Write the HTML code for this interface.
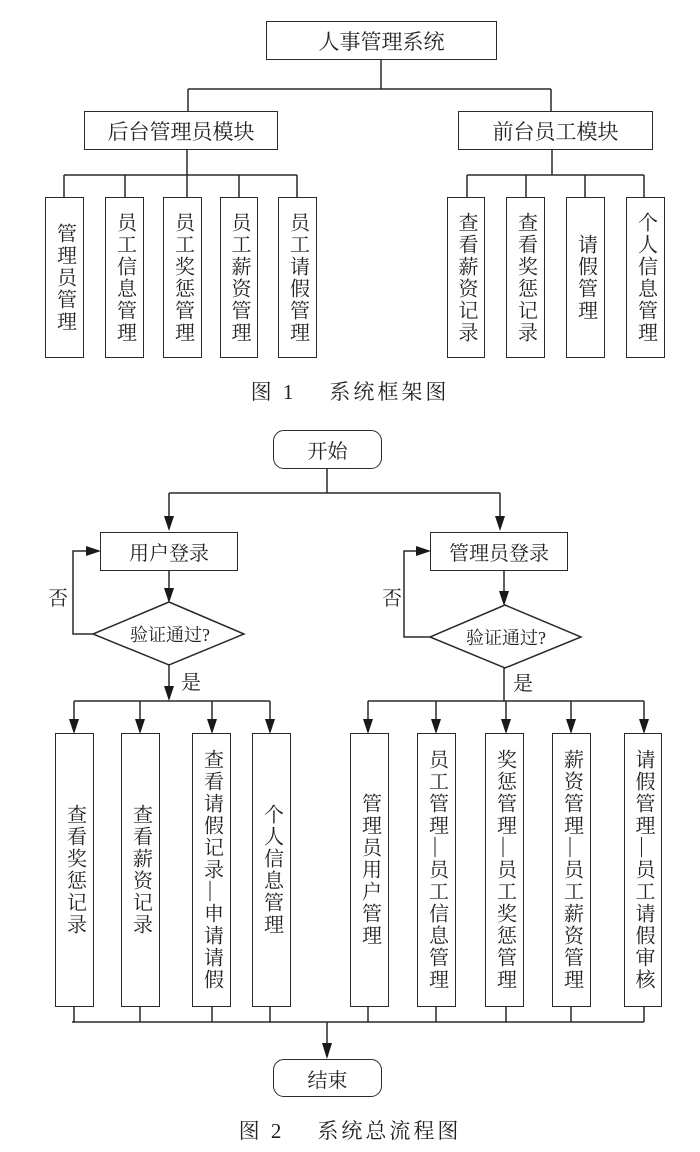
<!DOCTYPE html>
<html><head><meta charset="utf-8"><style>
html,body{margin:0;padding:0;background:#fff;}
body{width:700px;height:1152px;position:relative;overflow:hidden;font-family:"Liberation Serif","Noto Serif CJK SC",serif;color:#222;}
.b{position:absolute;border:1.5px solid #2a2a2a;box-sizing:border-box;display:flex;align-items:center;justify-content:center;font-size:20px;background:#fff;}
.v{writing-mode:vertical-rl;letter-spacing:2px;line-height:22px;}
.r{border-radius:11px;}
.t{position:absolute;font-size:20px;line-height:22px;}
.cap{font-size:21px;letter-spacing:3px;}
svg{position:absolute;left:0;top:0;}
</style></head><body>
<svg width="700" height="1152" viewBox="0 0 700 1152">
<g stroke="#2a2a2a" stroke-width="1.5" fill="none">
<path d="M381 59V89M188 89H551M188 89V111M551 89V111"/>
<path d="M187 149V175M64 175H297M64 175V197M125 175V197M187 175V197M239 175V197M297 175V197"/>
<path d="M552 149V175M467 175H644M467 175V197M526 175V197M585 175V197M644 175V197"/>
<path d="M327 468V493M169 493H500M169 493V520M500 493V520"/>
<path d="M169 570V592M504 570V595"/>
<path d="M93 634H73V551H90M430 637H404V551H420"/>
<path d="M169 665V690M504 668V701"/>
<path d="M74 701H270M74 701V723M140 701V723M212 701V723M270 701V723"/>
<path d="M368 701H644M368 701V723M436 701V723M506 701V723M571 701V723M644 701V723"/>
<path d="M74 1006V1022M140 1006V1022M212 1006V1022M270 1006V1022M368 1006V1022M436 1006V1022M506 1006V1022M571 1006V1022M644 1006V1022M72 1022H644M327 1022V1045"/>
</g>
<g fill="#1a1a1a">
<polygon points="164,516 174,516 169,531"/>
<polygon points="495,516 505,516 500,531"/>
<polygon points="164,588 174,588 169,603"/>
<polygon points="499,591 509,591 504,606"/>
<polygon points="86,546 86,556 101,551"/>
<polygon points="416,546 416,556 431,551"/>
<polygon points="164,686 174,686 169,701"/>
<polygon points="69,719 79,719 74,734"/>
<polygon points="135,719 145,719 140,734"/>
<polygon points="207,719 217,719 212,734"/>
<polygon points="265,719 275,719 270,734"/>
<polygon points="363,719 373,719 368,734"/>
<polygon points="431,719 441,719 436,734"/>
<polygon points="501,719 511,719 506,734"/>
<polygon points="566,719 576,719 571,734"/>
<polygon points="639,719 649,719 644,734"/>
<polygon points="322,1043 332,1043 327,1059"/>
</g>
<polygon points="169,602 244,634 169,665 93,634" fill="#fff" stroke="#2a2a2a" stroke-width="1.5"/>
<polygon points="505,605 581,637 505,668 430,637" fill="#fff" stroke="#2a2a2a" stroke-width="1.5"/>
</svg>

<div class="b" style="left:266px;top:21px;width:231px;height:39px;font-size:21px;">人事管理系统</div>
<div class="b" style="left:84px;top:111px;width:194px;height:39px;font-size:21px;">后台管理员模块</div>
<div class="b" style="left:458px;top:111px;width:195px;height:39px;font-size:21px;">前台员工模块</div>

<div class="b" style="left:45px;top:197px;width:39px;height:161px;"><span class="v">管理员管理</span></div>
<div class="b" style="left:105px;top:197px;width:39px;height:161px;"><span class="v">员工信息管理</span></div>
<div class="b" style="left:163px;top:197px;width:39px;height:161px;"><span class="v">员工奖惩管理</span></div>
<div class="b" style="left:220px;top:197px;width:38px;height:161px;"><span class="v">员工薪资管理</span></div>
<div class="b" style="left:278px;top:197px;width:39px;height:161px;"><span class="v">员工请假管理</span></div>

<div class="b" style="left:447px;top:197px;width:38px;height:161px;"><span class="v">查看薪资记录</span></div>
<div class="b" style="left:506px;top:197px;width:39px;height:161px;"><span class="v">查看奖惩记录</span></div>
<div class="b" style="left:566px;top:197px;width:39px;height:161px;"><span class="v">请假管理</span></div>
<div class="b" style="left:626px;top:197px;width:39px;height:161px;"><span class="v">个人信息管理</span></div>

<div class="t cap" style="left:0;width:700px;top:381px;text-align:center;">图 1&nbsp;&nbsp;&nbsp;&nbsp;系统框架图</div>

<div class="b r" style="left:273px;top:430px;width:109px;height:39px;">开始</div>
<div class="b" style="left:100px;top:532px;width:138px;height:39px;">用户登录</div>
<div class="b" style="left:430px;top:532px;width:138px;height:39px;">管理员登录</div>
<div class="t" style="left:110px;top:624px;width:120px;text-align:center;font-size:18px;">验证通过?</div>
<div class="t" style="left:446px;top:627px;width:120px;text-align:center;font-size:18px;">验证通过?</div>
<div class="t" style="left:48px;top:588px;">否</div>
<div class="t" style="left:382px;top:588px;">否</div>
<div class="t" style="left:181px;top:672px;">是</div>
<div class="t" style="left:513px;top:673px;">是</div>

<div class="b" style="left:55px;top:733px;width:39px;height:274px;"><span class="v">查看奖惩记录</span></div>
<div class="b" style="left:121px;top:733px;width:39px;height:274px;"><span class="v">查看薪资记录</span></div>
<div class="b" style="left:192px;top:733px;width:39px;height:274px;"><span class="v">查看请假记录—申请请假</span></div>
<div class="b" style="left:252px;top:733px;width:39px;height:274px;"><span class="v">个人信息管理</span></div>
<div class="b" style="left:350px;top:733px;width:39px;height:274px;"><span class="v">管理员用户管理</span></div>
<div class="b" style="left:417px;top:733px;width:39px;height:274px;"><span class="v">员工管理—员工信息管理</span></div>
<div class="b" style="left:485px;top:733px;width:39px;height:274px;"><span class="v">奖惩管理—员工奖惩管理</span></div>
<div class="b" style="left:552px;top:733px;width:39px;height:274px;"><span class="v">薪资管理—员工薪资管理</span></div>
<div class="b" style="left:624px;top:733px;width:38px;height:274px;"><span class="v">请假管理—员工请假审核</span></div>

<div class="b r" style="left:273px;top:1059px;width:109px;height:38px;">结束</div>
<div class="t cap" style="left:0;width:700px;top:1120px;text-align:center;">图 2&nbsp;&nbsp;&nbsp;&nbsp;系统总流程图</div>
</body></html>
